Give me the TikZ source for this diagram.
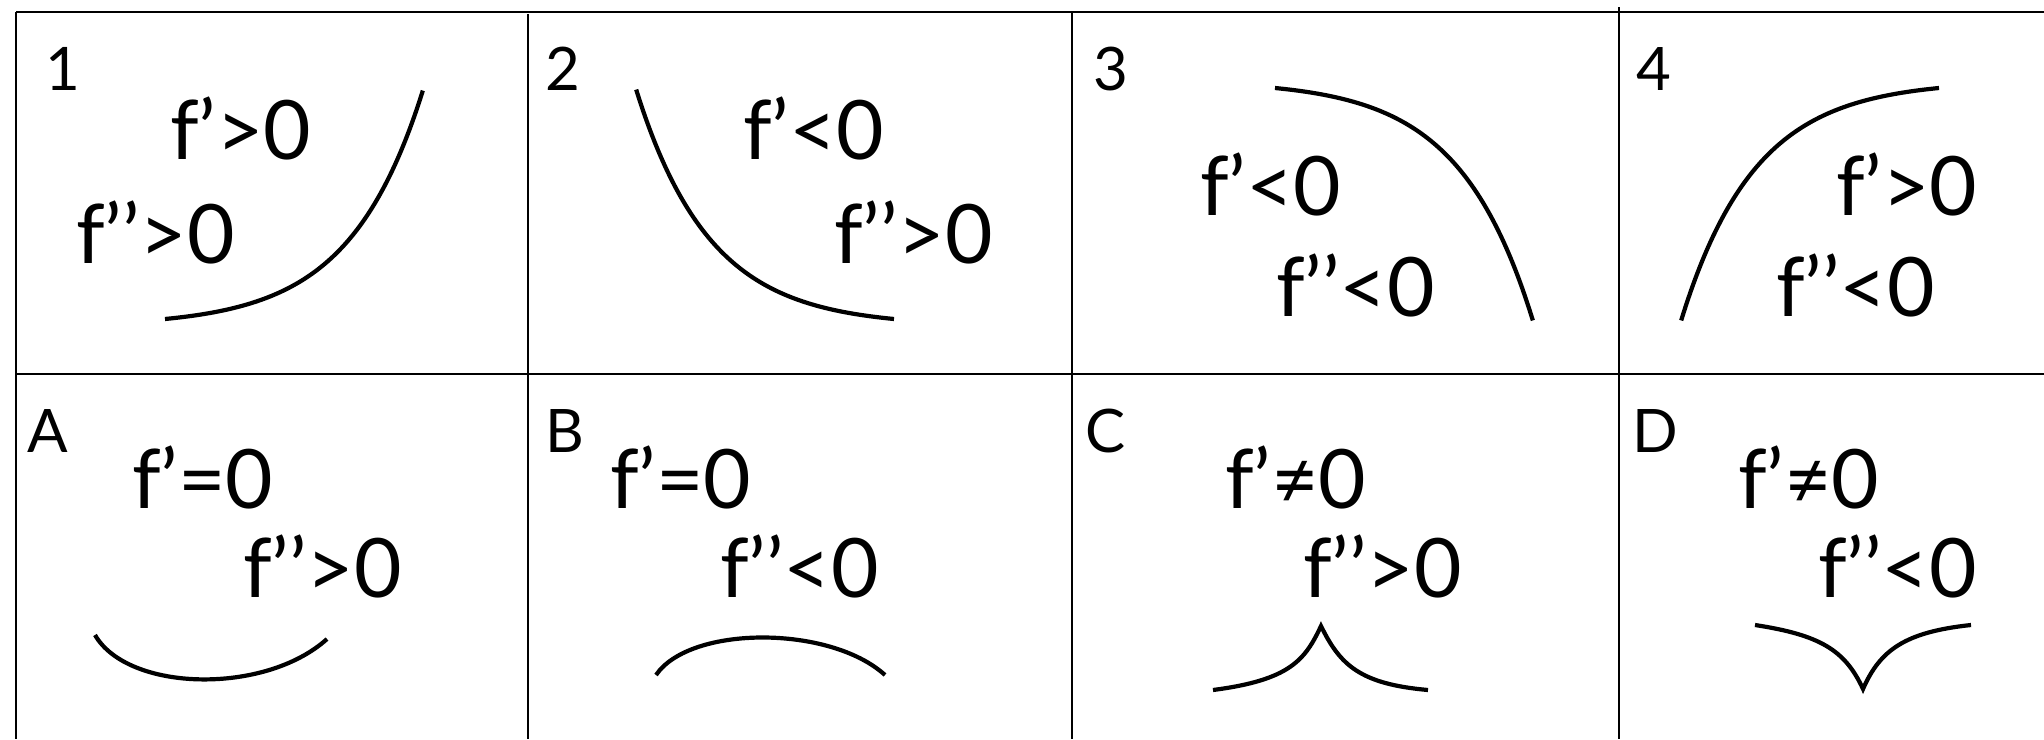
\documentclass[tikz,border=0pt]{standalone}
\usepackage{fontspec}
\setmainfont{Lato}
\begin{document}
\begin{tikzpicture}[x=0.5pt,y=-0.5pt,
  cond/.style={anchor=base west,inner sep=0pt,outer sep=0pt,font=\fontsize{41}{41}\selectfont},
  lab/.style={anchor=base west,inner sep=0pt,outer sep=0pt,font=\fontsize{30}{30}\selectfont},
  grid/.style={line width=1.3pt},
  vgrid/.style={line width=1pt},
  curve/.style={line width=2.1pt}]
\useasboundingbox (0,0) rectangle (2044,739);
% grid
\coordinate (TL) at (16,12);
\coordinate (TR) at (2044,12);
\coordinate (BL) at (16,739);
\coordinate (ML) at (16,374);
\coordinate (MR) at (2044,374);
\draw[grid] (TL) -- (TR);
\draw[grid] (ML) -- (MR);
\draw[grid] (TL) -- (BL);
\coordinate (v1t) at (528,14);  \coordinate (v1b) at (528,739);
\coordinate (v2t) at (1072,12); \coordinate (v2b) at (1072,739);
\coordinate (v3t) at (1619,7);  \coordinate (v3b) at (1619,739);
\draw[vgrid] (v1t) -- (v1b);
\draw[vgrid] (v2t) -- (v2b);
\draw[vgrid] (v3t) -- (v3b);
% labels
\node[lab] (l1) at (45,90) {1};
\node[lab] (l2) at (545,90) {2};
\node[lab] (l3) at (1093,90) {3};
\node[lab] (l4) at (1636,90) {4};
\node[lab] (lA) at (27,452) {A};
\node[lab] (lB) at (545,452) {B};
\node[lab] (lC) at (1085,452) {C};
\node[lab] (lD) at (1632,452) {D};
% conditions
\node[cond] (a1) at (170,159) {f’>0};
\node[cond] (b1) at (76,263) {f’’>0};
\node[cond] (a2) at (743,159) {f’<0};
\node[cond] (b2) at (834,263) {f’’>0};
\node[cond] (a3) at (1200,215) {f’<0};
\node[cond] (b3) at (1276,316) {f’’<0};
\node[cond] (a4) at (1836,215) {f’>0};
\node[cond] (b4) at (1776,316) {f’’<0};
\node[cond] (aA) at (132,508) {f’=0};
\node[cond] (bA) at (243,597) {f’’>0};
\node[cond] (aB) at (610,508) {f’=0};
\node[cond] (bB) at (720,597) {f’’<0};
\node[cond] (aC) at (1225,508) {f’≠0};
\node[cond] (bC) at (1303,597) {f’’>0};
\node[cond] (aD) at (1738,508) {f’≠0};
\node[cond] (bD) at (1818,597) {f’’<0};
% curves (exponential shape)
\draw[curve] plot[domain=0:1,samples=80,smooth] ({165+258*\x},{319-229*(exp(3.5*\x)-1)/32.115});
\draw[curve] plot[domain=0:1,samples=80,smooth] ({894-258*\x},{319-230*(exp(3.5*\x)-1)/32.115});
\draw[curve] plot[domain=0:1,samples=80,smooth] ({1275+258*\x},{88+233*(exp(3.5*\x)-1)/32.115});
\draw[curve] plot[domain=0:1,samples=80,smooth] ({1939-258*\x},{88+233*(exp(3.5*\x)-1)/32.115});
\draw[curve] (95,635) .. controls (128,692) and (265,695) .. (327,639);
\draw[curve] (656,675) .. controls (690,625) and (830,625) .. (885,675);
\draw[curve] (1213,690) .. controls (1290,680) and (1305,660) .. (1321,626)
  .. controls (1340,665) and (1360,684) .. (1428,690);
\draw[curve] (1755,625) .. controls (1820,635) and (1845,650) .. (1863,689)
  .. controls (1880,650) and (1905,632) .. (1971,625);
\end{tikzpicture}
\end{document}
